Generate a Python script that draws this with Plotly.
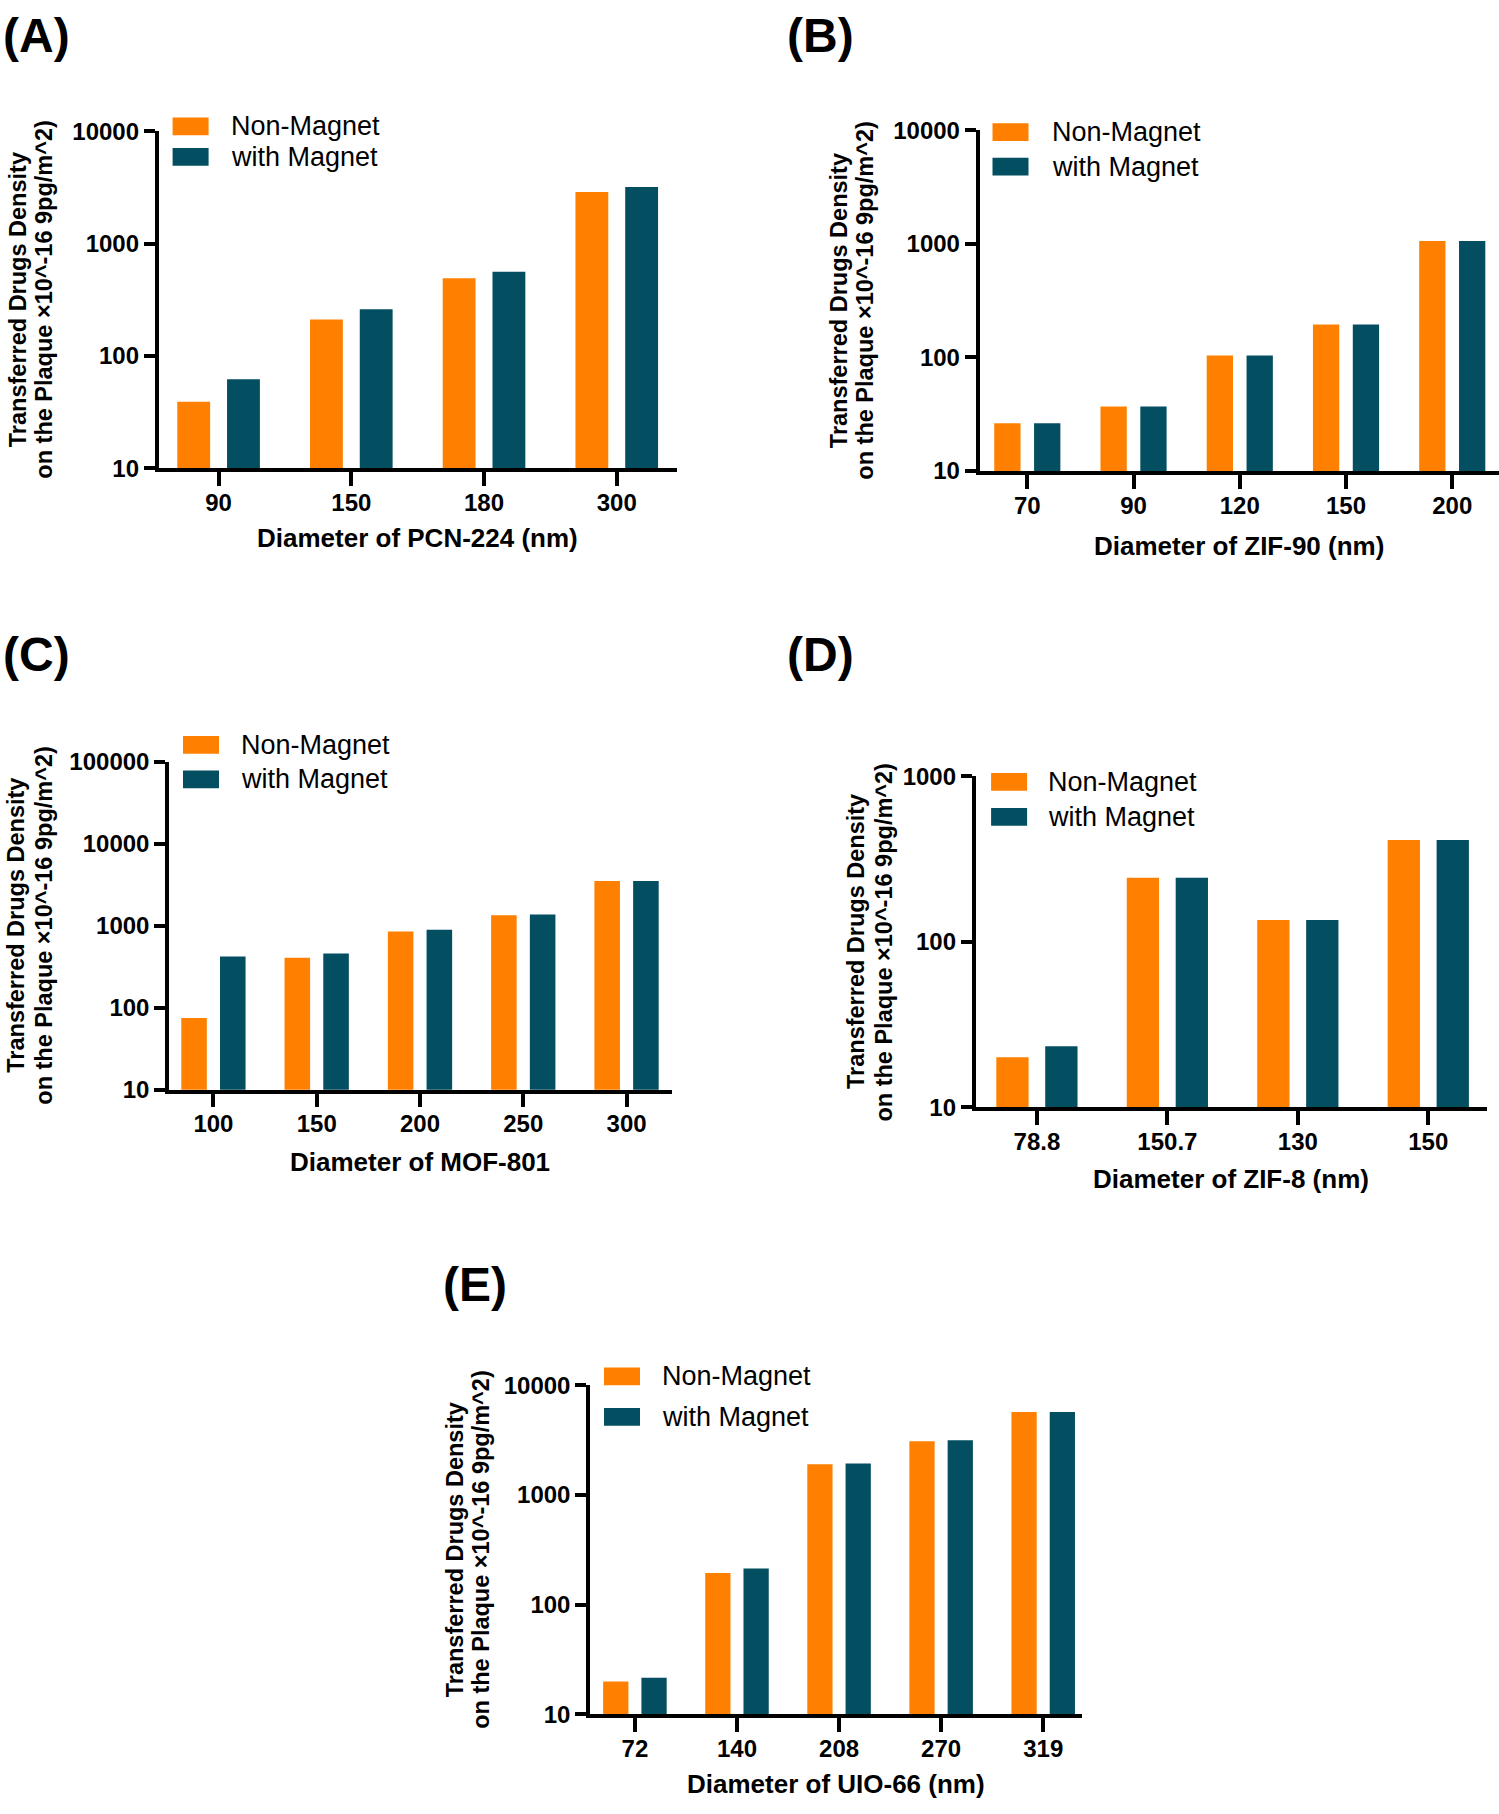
import plotly.graph_objects as go

W, H = 1499, 1814

# ---------------- data ----------------
A_cats = ["90", "150", "180", "300"]
A_non = [39, 211, 491, 2870]
A_mag = [62, 260, 560, 3180]

B_cats = ["70", "90", "120", "150", "200"]
B_non = [26.4, 37, 104, 195, 1060]
B_mag = [26.4, 37, 104, 195, 1060]

C_cats = ["100", "150", "200", "250", "300"]
C_non = [75, 408, 850, 1340, 3520]
C_mag = [420, 460, 890, 1370, 3520]

D_cats = ["78.8", "150.7", "130", "150"]
D_non = [20.1, 244, 136, 413]
D_mag = [23.4, 244, 136, 413]

E_cats = ["72", "140", "208", "270", "319"]
E_non = [19.9, 194, 1910, 3090, 5700]
E_mag = [21.5, 214, 1940, 3150, 5700]

series_names = ["Non-Magnet", "with Magnet"]
y_title_lines = ["Transferred Drugs Density", "on the Plaque ×10^-16 9pg/m^2)"]

ORANGE = "#FF8000"
TEAL = "#034E61"
FONT = "Liberation Sans, Arial, sans-serif"

panels = [
    dict(label="(A)", cats=A_cats, non=A_non, mag=A_mag, xtitle="Diameter of PCN-224 (nm)",
         x0=158.6, x1=677, yt=119, yb=461, ymax=4, xr=[-0.452, 3.454],
         lab=(36, 22), leg=(14, -5, 26), ytx=(17.5, 44), xty=532),
    dict(label="(B)", cats=B_cats, non=B_non, mag=B_mag, xtitle="Diameter of ZIF-90 (nm)",
         x0=979.5, x1=1499, yt=118, yb=464, ymax=4, xr=[-0.45, 4.44],
         lab=(821, 22), leg=(13, 2, 37), ytx=(838.5, 865), xty=540),
    dict(label="(C)", cats=C_cats, non=C_non, mag=C_mag, xtitle="Diameter of MOF-801",
         x0=169, x1=672, yt=759, yb=1092, ymax=5, xr=[-0.43, 4.44],
         lab=(36, 650), leg=(14, -17, 18), ytx=(16, 44), xty=1165),
    dict(label="(D)", cats=D_cats, non=D_non, mag=D_mag, xtitle="Diameter of ZIF-8 (nm)",
         x0=975.6, x1=1487, yt=774, yb=1110, ymax=3, xr=[-0.47, 3.45],
         lab=(821, 650), leg=(15.5, 5.5, 41), ytx=(856, 883.6), xty=1183),
    dict(label="(E)", cats=E_cats, non=E_non, mag=E_mag, xtitle="Diameter of UIO-66 (nm)",
         x0=590, x1=1082, yt=1392, yb=1726, ymax=4, xr=[-0.44, 4.38],
         lab=(475, 1290), leg=(14, -9, 32), ytx=(454.5, 481), xty=1797),
]


def px(x):
    return x / W


def py(y):
    return 1 - y / H


fig = go.Figure()
annotations = []
shapes = []

for i, p in enumerate(panels):
    n = i + 1
    xa = "x" if n == 1 else f"x{n}"
    ya = "y" if n == 1 else f"y{n}"
    for name, vals, col in [(series_names[0], p["non"], ORANGE), (series_names[1], p["mag"], TEAL)]:
        fig.add_trace(go.Bar(x=p["cats"], y=vals, name=name, marker=dict(color=col, line=dict(width=0)),
                             xaxis=xa, yaxis=ya, showlegend=False))
    xkey = "xaxis" if n == 1 else f"xaxis{n}"
    ykey = "yaxis" if n == 1 else f"yaxis{n}"
    tv = [10 ** k for k in range(1, p["ymax"] + 1)]
    fig.update_layout(**{
        xkey: dict(domain=[px(p["x0"]), px(p["x1"])], anchor=ya, type="category",
                   range=p["xr"], showline=True, linecolor="black", linewidth=3.5,
                   ticks="outside", ticklen=14, tickwidth=3.5, tickcolor="black",
                   showgrid=False, zeroline=False, ticklabelstandoff=-4,
                   tickfont=dict(family=FONT, size=24, color="black", weight="bold")),
        ykey: dict(domain=[py(p["yb"]), py(p["yt"])], anchor=xa, type="log",
                   range=[1, p["ymax"]], tickvals=tv, ticktext=[str(v) for v in tv],
                   showline=True, linecolor="black", linewidth=3.5,
                   ticks="outside", ticklen=11, tickwidth=3.5, tickcolor="black",
                   showgrid=False, zeroline=False, ticklabelstandoff=0,
                   tickfont=dict(family=FONT, size=24, color="black", weight="bold")),
    })
    # panel label
    annotations.append(dict(text=p["label"], x=px(p["lab"][0]), y=py(p["lab"][1]), xref="paper", yref="paper",
                            showarrow=False, xanchor="center", yanchor="middle",
                            font=dict(family=FONT, size=48, color="black", weight="bold")))
    # y title (two lines, placed separately)
    for line, lx in zip(y_title_lines, p["ytx"]):
        annotations.append(dict(text=line, x=px(lx), y=py((p["yt"] + p["yb"]) / 2), xref="paper",
                                yref="paper", showarrow=False, textangle=-90, xanchor="center",
                                yanchor="middle",
                                font=dict(family=FONT, size=23.5, color="black", weight="bold")))
    # x title
    annotations.append(dict(text=p["xtitle"], x=px((p["x0"] + p["x1"]) / 2), y=py(p["xty"]), xref="paper",
                            yref="paper", showarrow=False, xanchor="center", yanchor="middle",
                            font=dict(family=FONT, size=26, color="black", weight="bold")))
    # legend (manual)
    dx, oy, ty = p["leg"]
    sx0 = p["x0"] + dx
    for name, col, cy in [(series_names[0], ORANGE, p["yt"] + oy), (series_names[1], TEAL, p["yt"] + ty)]:
        shapes.append(dict(type="rect", xref="paper", yref="paper", x0=px(sx0), x1=px(sx0 + 36),
                           y0=py(cy - 9), y1=py(cy + 9), fillcolor=col, line=dict(width=0)))
        annotations.append(dict(text=name, x=px(p["x0"] + 70), y=py(cy), xref="paper", yref="paper",
                                showarrow=False, xanchor="left", yanchor="middle",
                                font=dict(family=FONT, size=27, color="black")))

fig.update_layout(width=W, height=H, autosize=False, margin=dict(l=0, r=0, t=0, b=0),
                  paper_bgcolor="white", plot_bgcolor="white", barmode="group",
                  bargap=0.25, bargroupgap=0.34, annotations=annotations, shapes=shapes,
                  font=dict(family=FONT, color="black"))

fig.write_html("out.html", config={"displayModeBar": False},
               post_script="document.body.style.margin='0';")
